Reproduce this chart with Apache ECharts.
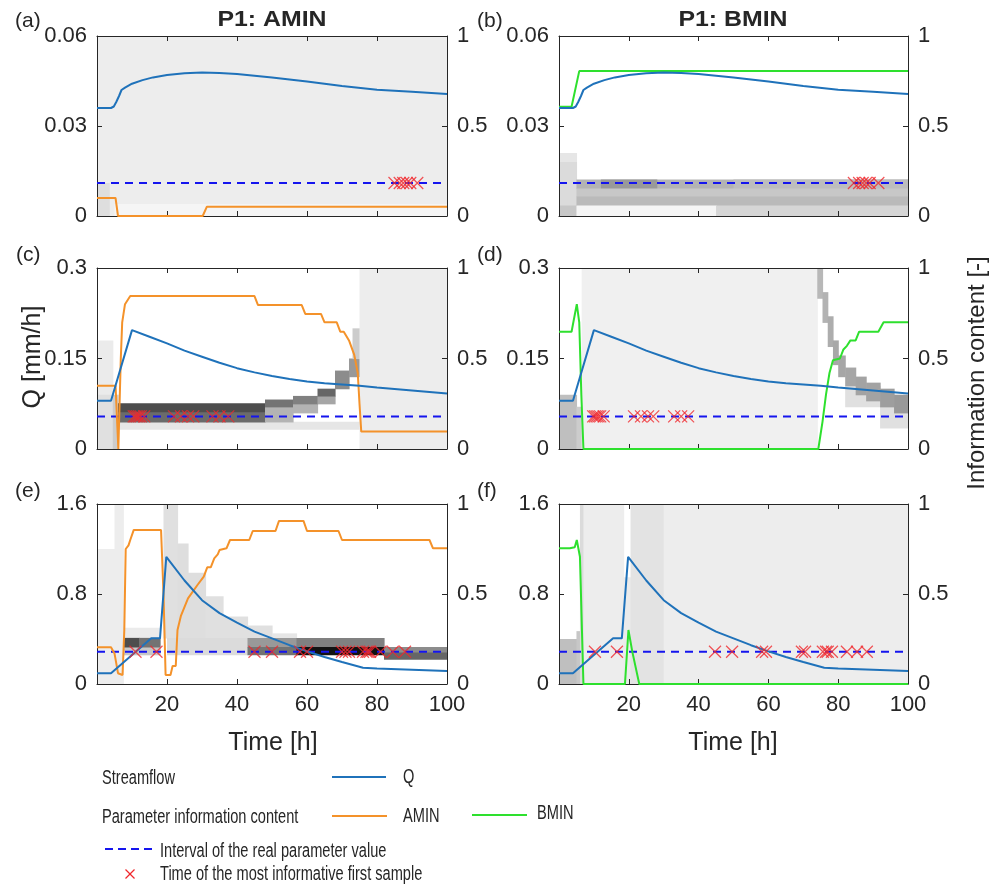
<!DOCTYPE html>
<html><head><meta charset="utf-8">
<script src="https://cdn.jsdelivr.net/npm/echarts@6/dist/echarts.min.js"></script>
<style>html,body{margin:0;padding:0;background:#fff}#c{width:990px;height:896px}</style>
</head><body><div id="c"></div>
<script>
// ---------- DATA ----------
// Streamflow Q (left axis units, mm/h), per row
const T_Q1 = [0,4,4.8,5.5,6.3,7,8,10,13,16,20,25,30,35,40,50,60,70,80,90,100];
const Q1   = [0.036,0.036,0.0365,0.038,0.040,0.042,0.0428,0.0441,0.0453,0.0462,0.0470,0.0476,0.0478,0.0477,0.0473,0.0462,0.0448,0.0433,0.0421,0.0414,0.0407];
const T_Q2 = [0,4,10,15,20,25,30,35,40,45,50,55,60,65,70,75,80,90,100];
const Q2   = [0.080,0.080,0.197,0.186,0.175,0.163,0.153,0.143,0.134,0.127,0.121,0.116,0.112,0.109,0.107,0.105,0.102,0.097,0.092];
const T_Q3 = [0,4,15.5,18,19.8,25,30,35,40,45,50,55,60,65,70,76,80,90,100];
const Q3   = [0.095,0.095,0.406,0.406,1.13,0.92,0.745,0.63,0.545,0.465,0.405,0.345,0.29,0.24,0.195,0.145,0.138,0.127,0.115];

// Parameter information content (right axis, 0-1)
const AMIN_A = [[0,0.1],[5.3,0.1],[6,0],[30.2,0],[31.4,0.052],[100,0.052]];
const BMIN_B = [[0,0.607],[3.6,0.607],[5.8,0.805],[100,0.805]];
const AMIN_C = [[0,0.35],[5.3,0.35],[6.1,0],[6.8,0.5],[7.2,0.7],[8,0.8],[9.5,0.845],[45,0.845],[46,0.795],[58.5,0.795],[59.5,0.746],[64,0.746],[65,0.70],[68.5,0.70],[69.5,0.648],[70.5,0.648],[72,0.6],[73.5,0.52],[74.5,0.42],[75,0.25],[75.5,0.096],[100,0.096]];
const BMIN_D = [[0,0.648],[3.6,0.648],[4.6,0.75],[5.1,0.8],[5.8,0.7],[6.4,0.3],[7,0],[74.3,0],[75.5,0.15],[76.5,0.3],[77.5,0.42],[78.5,0.49],[80.5,0.5],[81.5,0.55],[82.5,0.57],[83.5,0.6],[85,0.6],[86,0.648],[91.5,0.648],[93,0.70],[100,0.70]];
const AMIN_E = [[0,0.204],[4,0.204],[5,0.17],[6,0.06],[7.3,0.05],[7.8,0.3],[8.2,0.75],[9,0.77],[9.5,0.8],[10.5,0.856],[18.3,0.856],[19,0.5],[19.6,0.05],[21,0.05],[21.6,0.1],[22.5,0.1],[23,0.3],[24,0.38],[26,0.476],[28.7,0.55],[30.5,0.596],[31.5,0.648],[32.5,0.648],[33.5,0.698],[34.5,0.72],[35,0.744],[37,0.754],[38,0.80],[43.5,0.80],[44.5,0.85],[51,0.85],[52,0.906],[59,0.906],[60,0.85],[69,0.85],[70,0.80],[95,0.80],[96,0.754],[100,0.754]];
const BMIN_F = [[0,0.754],[3.1,0.754],[4.5,0.76],[5.1,0.8],[6,0.707],[7,0],[18.9,0],[19.9,0.3],[21,0.18],[23,0],[100,0]];

// Real parameter value interval (left axis units), per row
const REAL_VALUE = [0.011, 0.054, 0.287];

// Times of the most informative first sample
const X_A = [85,86.5,87.5,88.5,89.5,91.5];
const X_B = [84.5,86,87,88,89,91.5];
const X_C = [10.5,11,11.5,12,12.5,13.5,22,24,26,27.5,33,35,37.5];
const X_D = [9.8,10.3,10.8,11.3,11.8,12.8,21.5,23.5,25.5,27,33,35,37];
const X_E = [11,17,45,50,58,60,70,71,72,76,77,77.5,78,81,84.5,88];
const X_F = [10.3,16.6,44.7,49.6,58.2,59.3,69.6,70.5,75.6,76.5,77,78.2,82.5,85.4,88.2];

// Posterior density background: [t0, t1, q0, q1, density]
const HEAT_A = [[0,100,0,0.06,0.07],[0,3.5,0,0.011,0.13],[5,100,0,0.004,0.04]];
const HEAT_B = [[0,5,0,0.021,0.10],[0,5,0,0.018,0.14],[0,5,0,0.0035,0.22],[5,100,0.0092,0.0122,0.30],[12,28,0.0092,0.0122,0.40],[50,100,0.0092,0.0122,0.26],[5,100,0.0065,0.0092,0.22],[5,100,0.0035,0.0065,0.27],[5,45,0,0.0035,0.04],[45,100,0,0.0035,0.16]];
const HEAT_C = [[0,4.5,0,0.18,0.08],[0,4.5,0,0.09,0.12],[4.5,6,0,0.09,0.2],[6,75,0.033,0.045,0.1],[6,48,0.045,0.062,0.58],[6,48,0.062,0.076,0.7],[48,56,0.045,0.07,0.3],[48,56,0.07,0.082,0.55],[56,63,0.06,0.075,0.3],[56,63,0.075,0.088,0.5],[63,68,0.075,0.088,0.35],[63,68,0.088,0.1,0.6],[68,72,0.1,0.13,0.45],[72,75,0.12,0.15,0.4],[73,75,0.15,0.2,0.2],[75,100,0,0.3,0.07]];
const HEAT_D = [[0,5,0,0.09,0.25],[5,6.5,0,0.07,0.2],[6.5,74,0,0.3,0.06],[82,92,0.07,0.105,0.12],[92,100,0.035,0.07,0.12],[74,75.5,0.25,0.3,0.28],[75.5,77,0.21,0.26,0.3],[77,78.5,0.17,0.22,0.32],[78.5,80,0.14,0.18,0.34],[80,82,0.12,0.155,0.35],[82,85,0.105,0.135,0.35],[85,88,0.09,0.12,0.36],[88,92,0.08,0.11,0.36],[92,96,0.07,0.1,0.38],[96,100,0.06,0.09,0.4]];
const HEAT_E = [[0,5,0,1.2,0.07],[5,7.5,0,1.6,0.07],[7.5,18,0.26,0.5,0.08],[7.5,18,0.26,0.33,0.22],[7.5,12,0.33,0.41,0.7],[12,18,0.33,0.41,0.55],[19,23,0.41,1.6,0.12],[23,26,0.41,1.25,0.13],[26,31,0.41,0.99,0.13],[31,36,0.41,0.78,0.12],[36,43,0.41,0.6,0.12],[43,50,0.41,0.52,0.12],[50,57,0.41,0.45,0.1],[20,43,0.26,0.41,0.14],[43,57,0.33,0.41,0.4],[43,57,0.26,0.33,0.55],[57,82,0.33,0.41,0.5],[57,82,0.26,0.33,0.93],[82,100,0.28,0.33,0.45],[82,100,0.22,0.28,0.6]];
const HEAT_F = [[0,5,0,0.4,0.25],[5,6,0,0.47,0.22],[6,7,0,1.6,0.14],[7,18.5,0,1.6,0.07],[18.5,20.5,0,0.95,0.08],[20.5,30,0,1.6,0.11],[30,100,0,1.6,0.07]];

// Axis ticks
const Q_AXES = [{max:0.06, step:0.03},{max:0.3, step:0.15},{max:1.6, step:0.8}];
const TITLES = ['P1: AMIN','P1: BMIN'];
const PANEL_LABELS = ['(a)','(b)','(c)','(d)','(e)','(f)'];

// ---------- STYLE / LAYOUT ----------
const C_Q = '#1F72BA', C_A = '#F4922A', C_B = '#2EE02E', C_DASH = '#1515EE', C_X = '#F0282D', C_AX = '#262626';
const FONT = 'Liberation Sans, Arial, sans-serif';
const COLS = [{left:97, width:350},{left:559, width:349}];
const ROWS = [{top:36, height:180},{top:268, height:181},{top:504, height:180}];

const panels = [
  {heat:HEAT_A, qt:T_Q1, q:Q1, info:AMIN_A, ic:C_A, xs:X_A},
  {heat:HEAT_B, qt:T_Q1, q:Q1, info:BMIN_B, ic:C_B, xs:X_B},
  {heat:HEAT_C, qt:T_Q2, q:Q2, info:AMIN_C, ic:C_A, xs:X_C},
  {heat:HEAT_D, qt:T_Q2, q:Q2, info:BMIN_D, ic:C_B, xs:X_D},
  {heat:HEAT_E, qt:T_Q3, q:Q3, info:AMIN_E, ic:C_A, xs:X_E},
  {heat:HEAT_F, qt:T_Q3, q:Q3, info:BMIN_F, ic:C_B, xs:X_F}
];

function gray(d){ const c = Math.round(255*(1-d)); return 'rgb('+c+','+c+','+c+')'; }
function heatItem(params, api){
  const p0 = api.coord([api.value(0), api.value(3)]);
  const p1 = api.coord([api.value(1), api.value(2)]);
  return {type:'rect', shape:{x:p0[0], y:p0[1], width:p1[0]-p0[0]+0.6, height:p1[1]-p0[1]+0.6},
          style:{fill:gray(api.value(4))}};
}
const fmt = v => String(+(+v).toFixed(3));
const label = {fontFamily:FONT, fontSize:22, color:C_AX};

const grid=[], xAxis=[], yAxis=[], series=[];
panels.forEach((p,i)=>{
  const row = Math.floor(i/2), col = i%2;
  grid.push({left:COLS[col].left, width:COLS[col].width, top:ROWS[row].top, height:ROWS[row].height, show:false});
  ['bottom','top'].forEach((pos,k)=>{
    xAxis.push({gridIndex:i, type:'value', min:0, max:100, interval:20, position:pos, z:3,
      axisLine:{show:true, onZero:false, lineStyle:{color:C_AX, width:1}},
      axisTick:{show:true, inside:true, length:5, lineStyle:{color:C_AX}},
      axisLabel:Object.assign({show:(k===0 && row===2), margin:10, formatter:v=> v===0?'':String(v)}, label),
      splitLine:{show:false}});
  });
  const qa = Q_AXES[row];
  yAxis.push({gridIndex:i, type:'value', min:0, max:qa.max, interval:qa.step, position:'left', z:3,
    axisLine:{show:true, onZero:false, lineStyle:{color:C_AX, width:1}},
    axisTick:{show:true, inside:true, length:5, lineStyle:{color:C_AX}},
    axisLabel:Object.assign({margin:10, formatter:fmt}, label), splitLine:{show:false}});
  yAxis.push({gridIndex:i, type:'value', min:0, max:1, interval:0.5, position:'right', z:3,
    axisLine:{show:true, onZero:false, lineStyle:{color:C_AX, width:1}},
    axisTick:{show:true, inside:true, length:5, lineStyle:{color:C_AX}},
    axisLabel:Object.assign({margin:10, formatter:fmt}, label), splitLine:{show:false}});
  const xi = 2*i, yl = 2*i, yr = 2*i+1;
  series.push({type:'custom', xAxisIndex:xi, yAxisIndex:yl, renderItem:heatItem, data:p.heat,
    encode:{x:[0,1], y:[2,3]}, silent:true, z:1, clip:true});
  const rv = REAL_VALUE[row];
  series.push({type:'line', xAxisIndex:xi, yAxisIndex:yl, data:[[0,rv],[100,rv]], symbol:'none', silent:true, z:4,
    lineStyle:{color:C_DASH, width:2, type:[8,6]}});
  series.push({type:'line', xAxisIndex:xi, yAxisIndex:yr, data:p.info, symbol:'none', silent:true, z:5,
    lineStyle:{color:p.ic, width:2}});
  series.push({type:'line', xAxisIndex:xi, yAxisIndex:yl, data:p.qt.map((t,k)=>[t,p.q[k]]), symbol:'none', silent:true, z:6,
    lineStyle:{color:C_Q, width:2}});
  series.push({type:'scatter', xAxisIndex:xi, yAxisIndex:yl, data:p.xs.map(x=>[x,rv]), silent:true, z:7,
    symbol:'path://M0,0L10,10M10,0L0,10', symbolSize:12,
    itemStyle:{color:'rgba(0,0,0,0)', borderColor:C_X, borderWidth:1.2}});
});

// ---------- TEXT / LEGEND ----------
const g = [];
function txt(s, x, y, o){ o=o||{};
  return {type:'text', x:x, y:y, rotation:o.rot||0, scaleX:o.sx||1, z:10,
    style:{text:s, x:0, y:0, fill:o.fill||C_AX, textAlign:o.align||'left', textVerticalAlign:'middle',
      font:(o.bold?'bold ':'')+(o.size||22)+'px '+FONT}};
}
g.push(txt(TITLES[0], 272, 20, {align:'center', bold:true, size:22, sx:1.13}));
g.push(txt(TITLES[1], 733, 20, {align:'center', bold:true, size:22, sx:1.13}));
const LAB_POS = [[15,21],[477,21],[16,255],[477,255],[15,491],[477,491]];
PANEL_LABELS.forEach((s,i)=> g.push(txt(s, LAB_POS[i][0], LAB_POS[i][1], {size:21})));
g.push(txt('Time [h]', 273, 743, {align:'center', size:25}));
g.push(txt('Time [h]', 733, 743, {align:'center', size:25}));
g.push(txt('Q [mm/h]', 33, 357, {align:'center', size:25, rot:Math.PI/2}));
g.push(txt('Information content [-]', 977, 373, {align:'center', size:24, rot:Math.PI/2}));

const LS = {size:20, sx:0.73};
function hline(x1,x2,y,c,dash){ return {type:'line', z:10, shape:{x1:x1,y1:y,x2:x2,y2:y}, style:{stroke:c, lineWidth:2, lineDash:dash||null}}; }
g.push(txt('Streamflow', 102, 778, LS));
g.push(hline(332, 386, 777, C_Q));
g.push(txt('Q', 403, 777, LS));
g.push(txt('Parameter information content', 102, 817, LS));
g.push(hline(332, 387, 816, C_A));
g.push(txt('AMIN', 403, 816, LS));
g.push(hline(472, 527, 815, C_B));
g.push(txt('BMIN', 537, 813, LS));
g.push(hline(105, 155, 849, C_DASH, [8,5]));
g.push(txt('Interval of the real parameter value', 160, 851, LS));
g.push({type:'line', z:10, shape:{x1:125.5,y1:869.5,x2:134.5,y2:878.5}, style:{stroke:C_X, lineWidth:1.2}});
g.push({type:'line', z:10, shape:{x1:134.5,y1:869.5,x2:125.5,y2:878.5}, style:{stroke:C_X, lineWidth:1.2}});
g.push(txt('Time of the most informative first sample', 160, 874, LS));

const chart = echarts.init(document.getElementById('c'), null, {renderer:'canvas'});
chart.setOption({animation:false, backgroundColor:'#fff', grid, xAxis, yAxis, series, graphic:g});
</script></body></html>
